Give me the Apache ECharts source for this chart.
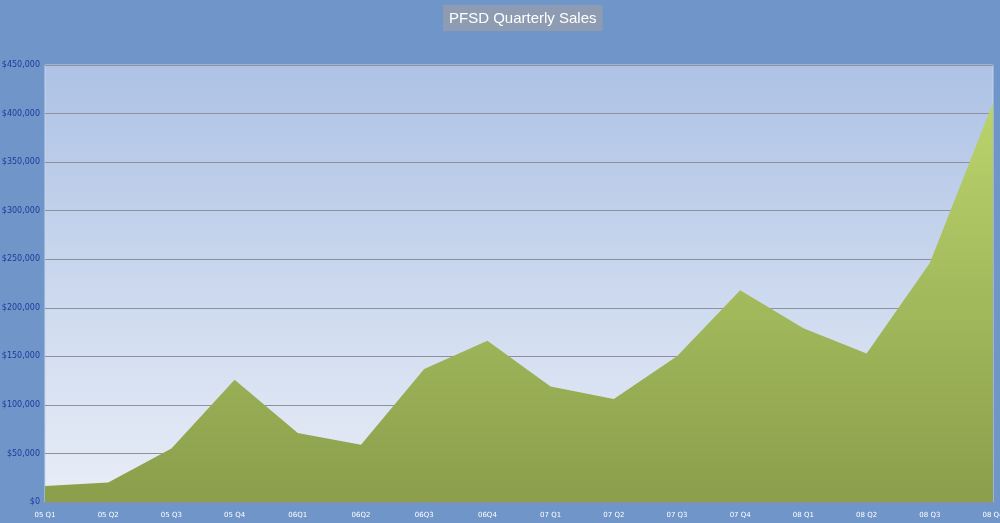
<!DOCTYPE html>
<html>
<head>
<meta charset="utf-8">
<script src="https://cdn.jsdelivr.net/npm/echarts@6/dist/echarts.min.js"></script>
<style>
  html, body { margin: 0; padding: 0; background: #6f95c9; }
  #main { width: 1000px; height: 523px; }
</style>
</head>
<body>
<div id="main"></div>
<script>
// quarters on the x axis
var quarters = ['05 Q1', '05 Q2', '05 Q3', '05 Q4', '06Q1', '06Q2', '06Q3', '06Q4',
  '07 Q1', '07 Q2', '07 Q3', '07 Q4', '08 Q1', '08 Q2', '08 Q3', '08 Q4']
// sales per quarter
var sales = [16500, 20000, 55000, 126000, 71000, 59000, 137000, 166000,
  119000, 106000, 150000, 218000, 179000, 153000, 246000, 411000]

var myChart = echarts.init(document.getElementById('main'))

var option = {
  backgroundColor: '#6f95c9',
  animation: false,
  title: {
    text: 'PFSD Quarterly Sales',
    left: 443,
    top: 5,
    padding: [6, 6, 5, 6],
    backgroundColor: '#8d9cb2',
    textStyle: {
      color: '#ffffff',
      fontFamily: 'Liberation Sans',
      fontWeight: 'normal',
      fontSize: 15
    }
  },
  grid: {
    left: 45,
    right: 7,
    top: 65,
    bottom: 21,
    outerBoundsMode: 'none',
    show: true,
    borderColor: '#c8d4ea',
    borderWidth: 1,
    backgroundColor: new echarts.graphic.LinearGradient(0, 0, 0, 1, [
      { offset: 0, color: '#adc2e5' },
      { offset: 1, color: '#e9eef7' }
    ])
  },
  xAxis: {
    type: 'category',
    boundaryGap: false,
    data: quarters,
    axisLine: { show: false },
    axisTick: { show: false },
    axisLabel: {
      color: '#ffffff',
      fontSize: 7,
      fontFamily: 'DejaVu Sans',
      margin: 10,
      interval: 0,
      hideOverlap: false
    }
  },
  yAxis: {
    type: 'value',
    min: 0,
    max: 450000,
    interval: 50000,
    axisLine: { show: false },
    axisTick: { show: false },
    splitLine: { lineStyle: { color: '#8c919e', width: 1 } },
    axisLabel: {
      color: '#1c3b9c',
      fontSize: 8,
      fontFamily: 'DejaVu Sans',
      margin: 5,
      formatter: function (v) {
        return '$' + v.toLocaleString('en-US')
      }
    }
  },
  series: [
    {
      name: 'Sales',
      type: 'line',
      data: sales,
      showSymbol: false,
      lineStyle: { width: 0 },
      areaStyle: {
        opacity: 1,
        color: new echarts.graphic.LinearGradient(0, 0, 0, 1, [
          { offset: 0, color: '#bad46c' },
          { offset: 1, color: '#8a9e4b' }
        ])
      }
    }
  ]
}

myChart.setOption(option)
</script>
</body>
</html>
